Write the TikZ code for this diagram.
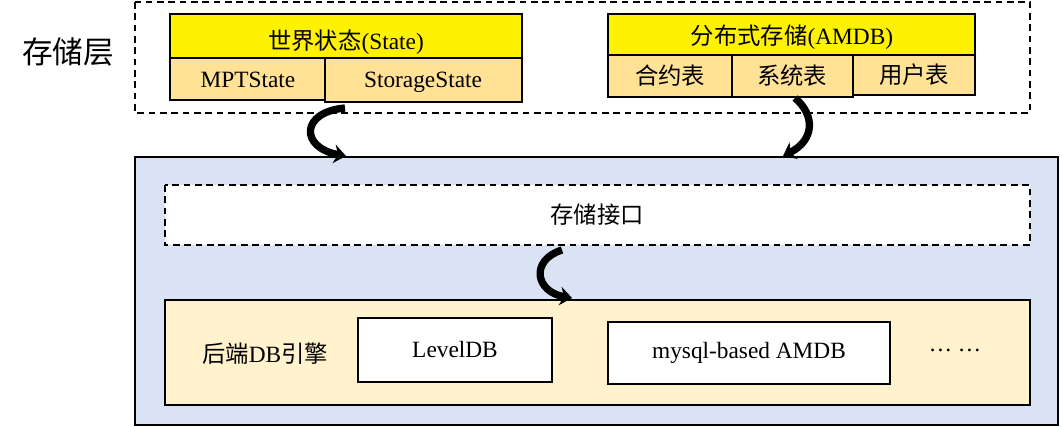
\documentclass[tikz,border=0pt]{standalone}
\usepackage{fontspec}
\setmainfont{Liberation Serif}
\newfontfamily\cjk{Noto Sans CJK SC}
\usetikzlibrary{positioning,arrows.meta}
\definecolor{cellfill}{RGB}{255,226,150}
\definecolor{panelblue}{RGB}{218,227,243}
\definecolor{cream}{RGB}{255,242,204}
\tikzset{
  txt/.style = {font = \fontsize{17.5}{20}\selectfont},
  cell/.style = {draw, line width = 1, fill = cellfill},
  head/.style = {draw, line width = 1, fill = yellow},
  dashline/.style = {dash pattern = on 5pt off 3.5pt, line width = 1},
  turn/.style = {line width = 5.5, -{Stealth[length=9pt,width=14pt]}},
}
\begin{document}
\begin{tikzpicture}[x=0.75pt, y=-0.75pt]
    \useasboundingbox (0,0) rectangle (1062,427);

    % storage layer
    \draw [dashline] (135,2) rectangle (1030,113);
    \node (layer) at (68,52) {\fontsize{23}{26}\selectfont\cjk 存储层};

    \path [head] (170,14) rectangle (522,58);
    \node at (346,42) [txt] {{\cjk 世界状态}(State)};
    \path [cell] (170,58) rectangle (325,100);
    \node at (248,80) [txt] {MPTState};
    \path [cell] (325,58) rectangle (522,102);
    \node at (423,82) [txt] {StorageState};

    \path [head] (608,14) rectangle (975,55);
    \node at (792,37) [txt] {{\cjk 分布式存储}(AMDB)};
    \path [cell] (608,55) rectangle (732,97);
    \node at (670,76) [txt] {\cjk 合约表};
    \path [cell] (732,55) rectangle (853,97);
    \node at (792,76) [txt] {\cjk 系统表};
    \path [cell] (853,55) rectangle (975,95);
    \node at (914,75) [txt] {\cjk 用户表};

    % engine panel
    \path [draw, line width = 1, fill = panelblue] (135,157) rectangle (1058,425);
    \path [draw, dashline, fill = white] (165,185) rectangle (1030,245);
    \node (iface) at (597,215) [txt] {\cjk 存储接口};

    \path [draw, line width = 1, fill = cream] (165,300) rectangle (1030,405);
    \node (backend) at (265,354) [txt] {{\cjk 后端}DB{\cjk 引擎}};
    \path [draw, line width = 1, fill = white] (358,318) rectangle (552,382);
    \node (leveldb) at (455,350) [txt] {LevelDB};
    \path [draw, line width = 1, fill = white] (608,322) rectangle (890,384);
    \node (mysql) at (749,353) [txt] {mysql-based AMDB};
    \node (more) at (955,350) [txt] {\dots\ \dots};

    % turning arrows
    \coordinate (a1) at (345,108);  \coordinate (b1) at (346,156);
    \coordinate (a2) at (795,98);   \coordinate (b2) at (783,156);
    \coordinate (a3) at (562,250);  \coordinate (b3) at (572,298);
    \draw [turn] (a1) .. controls (300,112) and (300,148) .. (b1);
    \draw [turn] (a2) .. controls (815,115) and (815,140) .. (b2);
    \draw [turn] (a3) .. controls (530,260) and (535,292) .. (b3);
\end{tikzpicture}
\end{document}
